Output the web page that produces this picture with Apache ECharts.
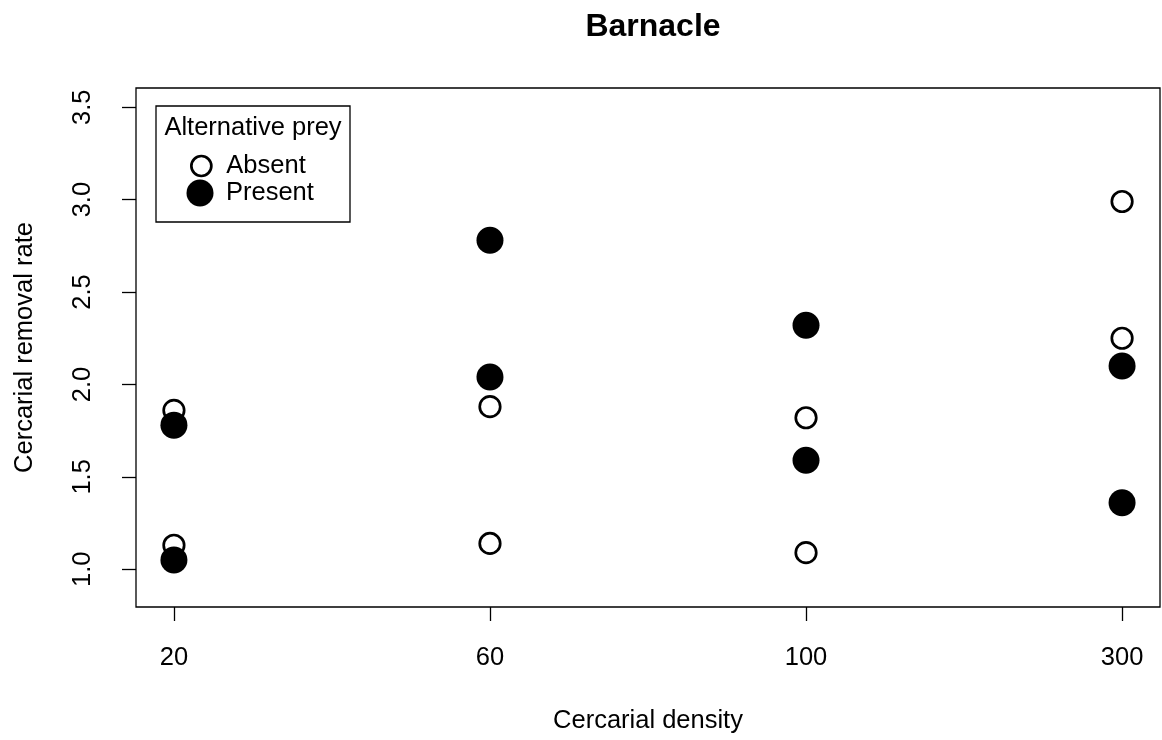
<!DOCTYPE html>
<html>
<head>
<meta charset="utf-8">
<script src="https://cdn.jsdelivr.net/npm/echarts@6/dist/echarts.min.js"></script>
<style>
html,body{margin:0;padding:0;background:#fff;}
#chart{width:1162px;height:740px;}
</style>
</head>
<body>
<div id="chart"></div>
<script>
// Data
const categories = ['20', '60', '100', '300'];
const yTicks = [1.0, 1.5, 2.0, 2.5, 3.0, 3.5];
// two observations per density level
const absentValues = [[1.86, 1.13], [1.88, 1.14], [1.82, 1.09], [2.99, 2.25]];
const presentValues = [[1.78, 1.05], [2.78, 2.04], [2.32, 1.59], [2.10, 1.36]];

function toPoints(vals) {
  const out = [];
  vals.forEach((pair, i) => pair.forEach(v => out.push([i + 1, v])));
  return out;
}

const FONT = '"Liberation Sans", Arial, sans-serif';
const FS = 25.5;
const chart = echarts.init(document.getElementById('chart'), null, {renderer: 'canvas'});
const xPos = categories.map((c, i) => i + 1);

chart.setOption({
  animation: false,
  backgroundColor: '#ffffff',
  title: {
    text: 'Barnacle',
    left: 648,
    textAlign: 'center',
    top: 6,
    textStyle: {fontFamily: FONT, fontWeight: 'bold', fontSize: 32, color: '#000'}
  },
  grid: {
    left: 136, right: 2, top: 88, bottom: 133,
    show: true, borderColor: '#000', borderWidth: 1.3, backgroundColor: 'transparent'
  },
  legend: [
    {
      orient: 'vertical', left: 185, top: 148,
      itemWidth: 20, itemHeight: 20, selectedMode: false,
      data: [{name: 'Absent', icon: 'circle', itemStyle: {color: '#fff', borderColor: '#000', borderWidth: 2.7}}],
      textStyle: {fontFamily: FONT, fontSize: FS, color: '#000', padding: [8, 0, 0, 10]}
    },
    {
      orient: 'vertical', left: 181.5, top: 174.5,
      itemWidth: 27, itemHeight: 27, selectedMode: false,
      data: [{name: 'Present', icon: 'circle', itemStyle: {color: '#000', borderWidth: 0}}],
      textStyle: {fontFamily: FONT, fontSize: FS, color: '#000', padding: [6, 0, 0, 7.5]}
    }
  ],
  graphic: [
    {type: 'rect', shape: {x: 156, y: 106, width: 194, height: 116}, style: {fill: 'none', stroke: '#000', lineWidth: 1.3}, z: 0},
    {type: 'text', x: 253, y: 128, style: {text: 'Alternative prey', font: FS + 'px ' + FONT, fill: '#000', textAlign: 'center', textVerticalAlign: 'middle'}}
  ],
  xAxis: {
    type: 'value', min: 0.88, max: 4.12,
    name: 'Cercarial density', nameLocation: 'middle', nameGap: 101,
    nameTextStyle: {fontFamily: FONT, fontSize: FS, color: '#000'},
    axisLine: {show: false},
    splitLine: {show: false},
    axisTick: {show: true, length: 14, lineStyle: {color: '#000', width: 1.3}, customValues: xPos},
    axisLabel: {
      customValues: xPos, margin: 38,
      formatter: v => categories[Math.round(v) - 1],
      fontFamily: FONT, fontSize: FS, color: '#000'
    }
  },
  yAxis: {
    type: 'value', min: 0.796, max: 3.604,
    name: 'Cercarial removal rate', nameLocation: 'middle', nameGap: 98,
    nameTextStyle: {fontFamily: FONT, fontSize: FS, color: '#000'},
    axisLine: {show: false},
    splitLine: {show: false},
    axisTick: {show: true, length: 14, lineStyle: {color: '#000', width: 1.3}, customValues: yTicks},
    axisLabel: {
      customValues: yTicks, margin: 40, rotate: 90,
      formatter: v => Number(v).toFixed(1),
      fontFamily: FONT, fontSize: FS, color: '#000'
    }
  },
  series: [
    {
      name: 'Absent', type: 'scatter', symbol: 'circle', symbolSize: 20.5,
      itemStyle: {color: '#fff', borderColor: '#000', borderWidth: 2.7, opacity: 1},
      data: toPoints(absentValues), z: 2
    },
    {
      name: 'Present', type: 'scatter', symbol: 'circle', symbolSize: 27,
      itemStyle: {color: '#000', opacity: 1},
      data: toPoints(presentValues), z: 3
    }
  ]
});
</script>
</body>
</html>
